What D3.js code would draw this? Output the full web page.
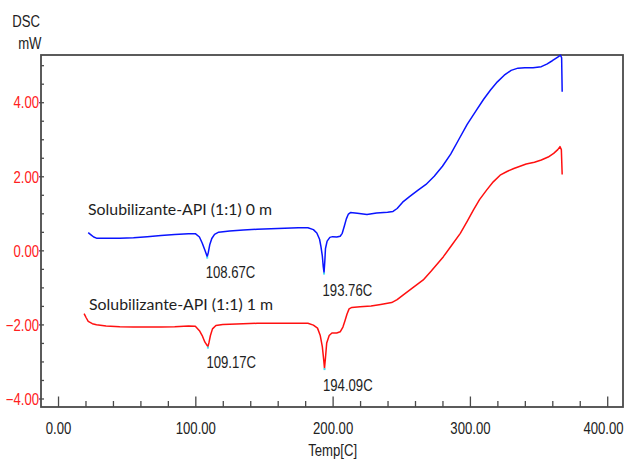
<!DOCTYPE html>
<html>
<head>
<meta charset="utf-8">
<script src="https://cdn.jsdelivr.net/npm/d3@7"></script>
<style>
  html, body { margin: 0; padding: 0; background: #fff; }
  svg { display: block; }
  .num { font-family: "Liberation Sans", Arial, sans-serif; font-size: 16px; }
</style>
</head>
<body>
<svg id="chart" width="628" height="461"></svg>
<script>
// ---- data ----
const xMajorTicks = [0, 100, 200, 300, 400];
const xMinorTicks = [20, 40, 60, 80, 120, 140, 160, 180, 220, 240, 260, 280, 320, 340, 360, 380];
const yMajorTicks = [-4, -2, 0, 2, 4];
const yMinorTicks = [-3.5, -3, -2.5, -1.5, -1, -0.5, 0.5, 1, 1.5, 2.5, 3, 3.5, 4.5, 5];

const seriesNames = ["Solubilizante-API (1:1) 0 m", "Solubilizante-API (1:1) 1 m"];
const seriesColors = ["#0a14ff", "#ff1010"];

const temp0 = [22, 24, 26, 28, 35, 45, 55, 65, 75, 85, 95, 100, 103, 105, 107, 108.67, 109.5, 110.5, 112, 114, 117, 125, 135, 145, 160, 175, 182, 186, 188.5, 190.5, 191.5, 192.5, 193.2, 193.76, 194.3, 194.8, 196, 198, 200, 203, 205.5, 207, 208.5, 210, 211.5, 213, 218, 225, 232, 240, 244, 247, 251, 256, 262, 268, 274, 280, 286, 292, 298, 305, 310, 315, 320, 325, 330, 335, 340, 346, 352, 356, 360, 364, 366, 366.8, 367.2];
const dsc0 = [0.48, 0.42, 0.36, 0.33, 0.33, 0.33, 0.34, 0.37, 0.40, 0.43, 0.45, 0.45, 0.36, 0.20, 0.0, -0.17, -0.05, 0.15, 0.32, 0.43, 0.49, 0.52, 0.55, 0.57, 0.59, 0.61, 0.61, 0.56, 0.47, 0.30, 0.10, -0.15, -0.45, -0.60, -0.30, 0.05, 0.25, 0.35, 0.37, 0.36, 0.38, 0.46, 0.65, 0.85, 0.98, 1.02, 1.00, 0.97, 1.01, 1.03, 1.05, 1.13, 1.30, 1.45, 1.62, 1.78, 2.00, 2.27, 2.60, 3.00, 3.40, 3.80, 4.08, 4.33, 4.55, 4.73, 4.86, 4.92, 4.93, 4.93, 4.96, 5.03, 5.12, 5.22, 5.27, 5.20, 4.28];

const temp1 = [19, 20.5, 22, 25, 28, 35, 45, 55, 65, 75, 85, 95, 100, 103, 105, 107, 109.17, 110, 111, 112.5, 115, 120, 130, 145, 160, 175, 182, 186, 189, 191, 192.5, 193.5, 194.09, 194.8, 195.7, 197.5, 199.5, 203, 205.5, 207.5, 209, 210.5, 212, 214, 220, 228, 235, 243, 247, 251.5, 258, 266, 272, 280.7, 287, 293, 298, 302.6, 307, 312, 317, 322, 327, 332, 341, 347, 352, 357, 361, 364, 365.6, 366.6, 367.2];
const dsc1 = [-1.71, -1.82, -1.92, -1.98, -2.01, -2.04, -2.06, -2.07, -2.07, -2.07, -2.06, -2.04, -2.05, -2.17, -2.30, -2.48, -2.60, -2.48, -2.30, -2.12, -2.03, -2.00, -1.99, -1.97, -1.97, -1.97, -1.97, -2.02, -2.10, -2.30, -2.60, -2.95, -3.18, -2.90, -2.50, -2.30, -2.23, -2.23, -2.20, -2.07, -1.90, -1.72, -1.58, -1.54, -1.52, -1.50, -1.46, -1.41, -1.33, -1.20, -1.02, -0.80, -0.55, -0.17, 0.15, 0.46, 0.78, 1.09, 1.37, 1.62, 1.85, 2.03, 2.13, 2.21, 2.33, 2.38, 2.44, 2.52, 2.62, 2.72, 2.80, 2.72, 2.05];

const peakTemps = [108.67, 193.76, 109.17, 194.09];
const peakValues = [-0.17, -0.60, -2.60, -3.18];
const peakLabels = ["108.67C", "193.76C", "109.17C", "194.09C"];

const xTitle = "Temp[C]";
const yTitle = ["DSC", "mW"];

// ---- chart ----
const svg = d3.select("#chart");
const L = 41, R = 623, T = 55, B = 407;
const x = d3.scaleLinear().domain([-12.4, 411.5]).range([L, R]);
const y = d3.scaleLinear().domain([-4.23, 5.275]).range([B, T]);
const axisColor = "#4a4a4a";

// narrow the Arial-metric font to mimic a condensed face
function narrow(sel) {
  sel.each(function () {
    const w = this.getComputedTextLength();
    if (w > 0) d3.select(this).attr("textLength", w * 0.82).attr("lengthAdjust", "spacingAndGlyphs");
  });
}

// x axis major
const gxM = svg.append("g").attr("transform", `translate(0,${B})`)
  .call(d3.axisBottom(x).tickValues(xMajorTicks).tickSize(-10.5).tickFormat(d3.format(".2f")));
gxM.select(".domain").remove();
gxM.selectAll("line").attr("stroke", axisColor).attr("stroke-width", 1.3);
gxM.selectAll("text").attr("class", "num").attr("fill", "#222").attr("y", 27).attr("dy", null)
  .style("font-size", "16px").attr("font-family", null).call(narrow);
// keep the last label inside the frame, as in the original
gxM.selectAll("text").filter(d => d === xMajorTicks[xMajorTicks.length - 1])
  .attr("text-anchor", "end").attr("x", R - x(xMajorTicks[xMajorTicks.length - 1]));

const gxm = svg.append("g").attr("transform", `translate(0,${B})`)
  .call(d3.axisBottom(x).tickValues(xMinorTicks).tickSize(-6).tickFormat(""));
gxm.select(".domain").remove();
gxm.selectAll("line").attr("stroke", axisColor).attr("stroke-width", 1.3);

// y axis
const gyM = svg.append("g").attr("transform", `translate(${L},0)`)
  .call(d3.axisLeft(y).tickValues(yMajorTicks).tickSize(-3).tickPadding(2).tickFormat(d3.format(".2f")));
gyM.select(".domain").remove();
gyM.selectAll("line").attr("stroke", axisColor).attr("stroke-width", 1.3).attr("x1", -2);
gyM.selectAll("text").attr("class", "num").attr("fill", "#ff2020").style("font-size", "16px")
  .attr("dy", "0.36em").call(narrow);

const gym = svg.append("g").attr("transform", `translate(${L},0)`)
  .call(d3.axisLeft(y).tickValues(yMinorTicks).tickSize(-3).tickFormat(""));
gym.select(".domain").remove();
gym.selectAll("line").attr("stroke", axisColor).attr("stroke-width", 1.3);

// frame
svg.append("rect").attr("x", L).attr("y", T).attr("width", R - L).attr("height", B - T)
  .attr("fill", "none").attr("stroke", axisColor).attr("stroke-width", 1.8);

// lines
const line = d3.line().x(d => x(d[0])).y(d => y(d[1]));
const series = [d3.zip(temp0, dsc0), d3.zip(temp1, dsc1)];
series.forEach((s, i) => {
  svg.append("path").datum(s).attr("d", line).attr("fill", "none")
    .attr("stroke", seriesColors[i]).attr("stroke-width", 1.5).attr("stroke-linejoin", "round");
});

// peak markers and labels
peakTemps.forEach((t, i) => {
  svg.append("rect").attr("x", x(t) - 1).attr("y", y(peakValues[i]))
    .attr("width", 2).attr("height", 2).attr("fill", "#40e0f0");
  svg.append("text").attr("class", "num").attr("fill", "#222")
    .attr("x", x(t) - 1.5).attr("y", y(peakValues[i]) + (i % 2 === 1 ? 23 : 21))
    .text(peakLabels[i]).call(narrow);
});

// series labels
const labelPos = [[88, 215], [89, 309.5]];
seriesNames.forEach((n, i) => {
  svg.append("text").attr("x", labelPos[i][0]).attr("y", labelPos[i][1])
    .attr("font-family", "Lato, 'Open Sans', sans-serif").attr("font-size", 15.5)
    .attr("fill", "#1e1e1e").attr("textLength", 184).attr("lengthAdjust", "spacingAndGlyphs")
    .text(n);
});

// titles
svg.append("text").attr("class", "num").attr("fill", "#222").attr("x", x(200)).attr("y", 456)
  .attr("text-anchor", "middle").text(xTitle).call(narrow);
svg.append("text").attr("class", "num").attr("fill", "#222").attr("x", 40).attr("y", 26.5)
  .attr("text-anchor", "end").text(yTitle[0]).call(narrow);
svg.append("text").attr("class", "num").attr("fill", "#222").attr("x", 41.5).attr("y", 49)
  .attr("text-anchor", "end").text(yTitle[1]).call(narrow);
</script>
</body>
</html>
